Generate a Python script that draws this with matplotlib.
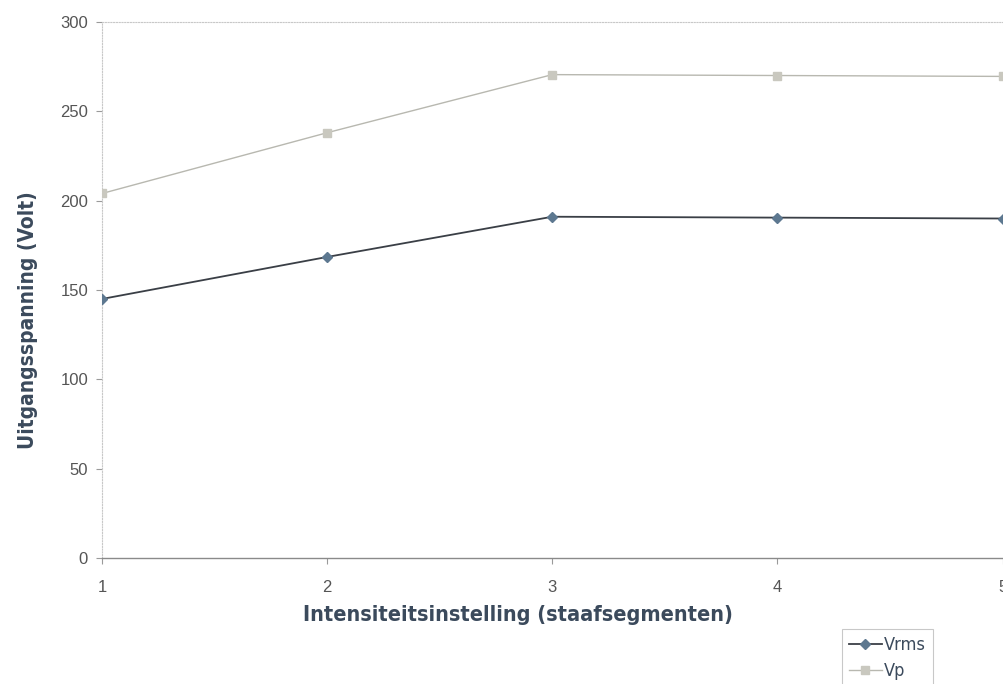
import matplotlib
matplotlib.use("Agg")
import matplotlib.pyplot as plt
from matplotlib import font_manager

# Intensity setting (bar segments) vs output voltage
settings = [1, 2, 3, 4, 5]
vrms = [145, 168.5, 191, 190.5, 190]
vp = [204, 238, 270.5, 270, 269.5]
yticks = [0, 50, 100, 150, 200, 250, 300]

condensed = [f for f in font_manager.fontManager.ttflist
             if f.name == "DejaVu Sans" and f.stretch == "condensed"]
label_kw = dict(family="DejaVu Sans", stretch="condensed") if condensed else dict(family="Liberation Sans")

fig = plt.figure(figsize=(10.04, 6.84), dpi=100)
ax = fig.add_axes([0.1016, 0.184, 0.897, 0.784])

ax.plot(settings, vp, color="#b8b8b0", lw=1.0, marker="s", ms=6,
        mfc="#c9c8bf", mec="#c9c8bf", label="Vp", zorder=3)
ax.plot(settings, vrms, color="#3a3f46", lw=1.3, marker="D", ms=5,
        mfc="#5d7890", mec="#5d7890", label="Vrms", zorder=4)

ax.set_xlim(1, 5)
ax.set_ylim(0, 300)
ax.set_xticks(settings)
ax.set_yticks(yticks)

for side in ("top", "left", "right"):
    ax.spines[side].set_color("#c8c8c8")
    ax.spines[side].set_linestyle((0, (1, 1.5)))
    ax.spines[side].set_linewidth(0.8)
ax.spines["right"].set_visible(False)
ax.spines["bottom"].set_color("#8a8a8a")
ax.spines["bottom"].set_linewidth(1.0)

ax.tick_params(axis="both", colors="#9a9a9a", labelcolor="#555555",
               labelsize=12, length=4, width=0.8)
ax.tick_params(axis="x", pad=12)
ax.tick_params(axis="y", pad=6)
for lab in ax.get_xticklabels() + ax.get_yticklabels():
    lab.set_family("Liberation Sans")

ax.set_ylabel("Uitgangsspanning (Volt)", fontsize=15, fontweight="bold",
              color="#3b4a5c", **label_kw)
ax.yaxis.set_label_coords(-0.0711, 0.444)
ax.set_xlabel("Intensiteitsinstelling (staafsegmenten)", fontsize=15.6,
              fontweight="bold", color="#3b4a5c", **label_kw)
ax.xaxis.set_label_coords(0.462, -0.0877)

handles, labels = ax.get_legend_handles_labels()
leg = fig.legend(handles[::-1], labels[::-1], loc="upper left",
                 bbox_to_anchor=(0.8386, 0.0804), frameon=True, fancybox=False,
                 handlelength=1.8, handletextpad=0.1,
                 borderpad=0.4, labelspacing=0.45, borderaxespad=0,
                 prop={"size": 13, **label_kw})
leg.get_frame().set_edgecolor("#bbbbbb")
leg.get_frame().set_linewidth(0.8)
for t in leg.get_texts():
    t.set_color("#3b4a5c")

fig.savefig("out.png", dpi=100)
